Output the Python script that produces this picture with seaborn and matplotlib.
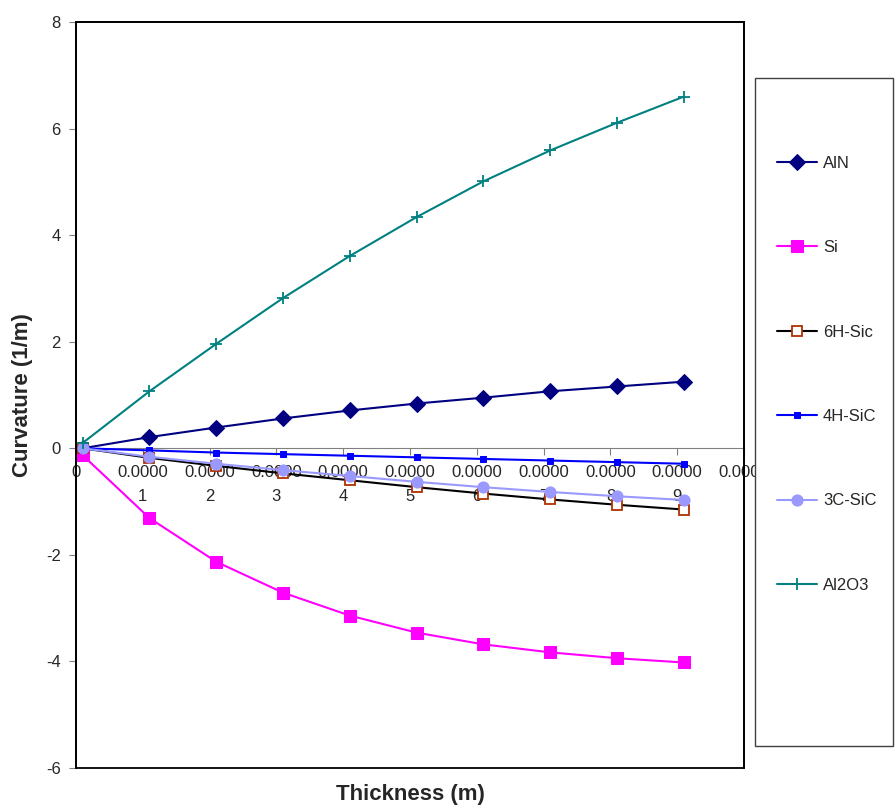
import pandas as pd
import seaborn as sns
from matplotlib import pyplot as plt
from matplotlib.patches import Rectangle

# data
thickness = [0.000001, 0.000011, 0.000021, 0.000031, 0.000041,
             0.000051, 0.000061, 0.000071, 0.000081, 0.000091]
aln = [0.0, 0.21, 0.39, 0.56, 0.71, 0.84, 0.95, 1.07, 1.16, 1.25]
si = [-0.13, -1.31, -2.13, -2.71, -3.14, -3.46, -3.68, -3.83, -3.94, -4.02]
sic_6h = [0.0, -0.18, -0.33, -0.47, -0.60, -0.73, -0.85, -0.96, -1.06, -1.15]
sic_4h = [0.0, -0.04, -0.08, -0.11, -0.14, -0.17, -0.20, -0.23, -0.26, -0.29]
sic_3c = [0.0, -0.16, -0.29, -0.41, -0.52, -0.63, -0.73, -0.82, -0.90, -0.97]
al2o3 = [0.10, 1.07, 1.96, 2.82, 3.61, 4.34, 5.01, 5.59, 6.11, 6.60]

xticks = [0, 0.00001, 0.00002, 0.00003, 0.00004, 0.00005,
          0.00006, 0.00007, 0.00008, 0.00009, 0.0001]
xtick_labels = ['0', '0.0000\n1', '0.0000\n2', '0.0000\n3', '0.0000\n4',
                '0.0000\n5', '0.0000\n6', '0.0000\n7', '0.0000\n8',
                '0.0000\n9', '0.0001']

df = pd.DataFrame({'thickness': thickness, 'AlN': aln, 'Si': si,
                   '6H-Sic': sic_6h, '4H-SiC': sic_4h, '3C-SiC': sic_3c,
                   'Al2O3': al2o3})

sns.set_style('white')
plt.rcParams['font.family'] = ['Liberation Sans', 'DejaVu Sans']
plt.rcParams['axes.unicode_minus'] = False

fig = plt.figure(figsize=(8.96, 8.09), dpi=100)
ax = fig.add_axes([76 / 896, 1 - 768 / 809, 668 / 896, 746 / 809])

styles = {
    'AlN': dict(color='#000080', marker='D', markersize=8,
                markeredgecolor='#000080'),
    'Si': dict(color='#FF00FF', marker='s', markersize=9,
               markeredgecolor='#FF00FF'),
    '6H-Sic': dict(color='black', marker='s', markersize=7,
                   markerfacecolor='white', markeredgecolor='#B03000',
                   markeredgewidth=1.3),
    '4H-SiC': dict(color='#0000FF', marker='s', markersize=4,
                   markeredgecolor='#0000FF'),
    '3C-SiC': dict(color='#9999FF', marker='o', markersize=8,
                   markeredgecolor='#9999FF'),
    'Al2O3': dict(color='#008080', marker='+', markersize=9,
                  markeredgecolor='#008080', markeredgewidth=1.3),
}
for name, st in styles.items():
    sns.lineplot(data=df, x='thickness', y=name, ax=ax, label=name,
                 linewidth=1.5, legend=False, **st)

# x axis runs through zero, frame drawn separately
ax.spines['bottom'].set_position(('data', 0))
ax.spines['bottom'].set_color('#808080')
ax.spines['bottom'].set_zorder(1)
for s in ['left', 'top', 'right']:
    ax.spines[s].set_color('black')
    ax.spines[s].set_linewidth(1.3)
ax.add_patch(Rectangle((0, 0), 1, 1, transform=ax.transAxes, fill=False,
                       ec='black', lw=1.3, clip_on=False, zorder=3))

ax.set_xlim(0, 0.0001)
ax.set_ylim(-6, 8)
ax.set_yticks([-6, -4, -2, 0, 2, 4, 6, 8])
ax.set_xticks(xticks)
ax.set_xticklabels(xtick_labels, linespacing=1.75)

ax.tick_params(axis='x', direction='out', length=5, color='#808080',
               labelsize=12, pad=7, bottom=True)
ax.tick_params(axis='y', direction='out', length=5, color='#808080',
               labelsize=12, pad=6, left=True)

ax.set_xlabel('Thickness (m)', fontsize=16, fontweight='bold', va='center')
ax.xaxis.set_label_coords(0.5, -0.036)
ax.set_ylabel('Curvature (1/m)', fontsize=16, fontweight='bold', va='center')
ax.yaxis.set_label_coords(-0.08, 0.5)

# legend box
fig.patches.append(Rectangle((755 / 896, 1 - 746 / 809), 138 / 896, 668 / 809,
                             transform=fig.transFigure, fc='white',
                             ec='#404040', lw=1.0, zorder=1))
handles, labels = ax.get_legend_handles_labels()
leg = fig.legend(handles, labels, loc='upper left',
                 bbox_to_anchor=(777 / 896, 1 - 156 / 809), frameon=False,
                 fontsize=12, labelspacing=4.16, handlelength=2.4,
                 handletextpad=0.35, borderaxespad=0, borderpad=0)
leg.set_zorder(5)

fig.savefig('out.png', dpi=100)
